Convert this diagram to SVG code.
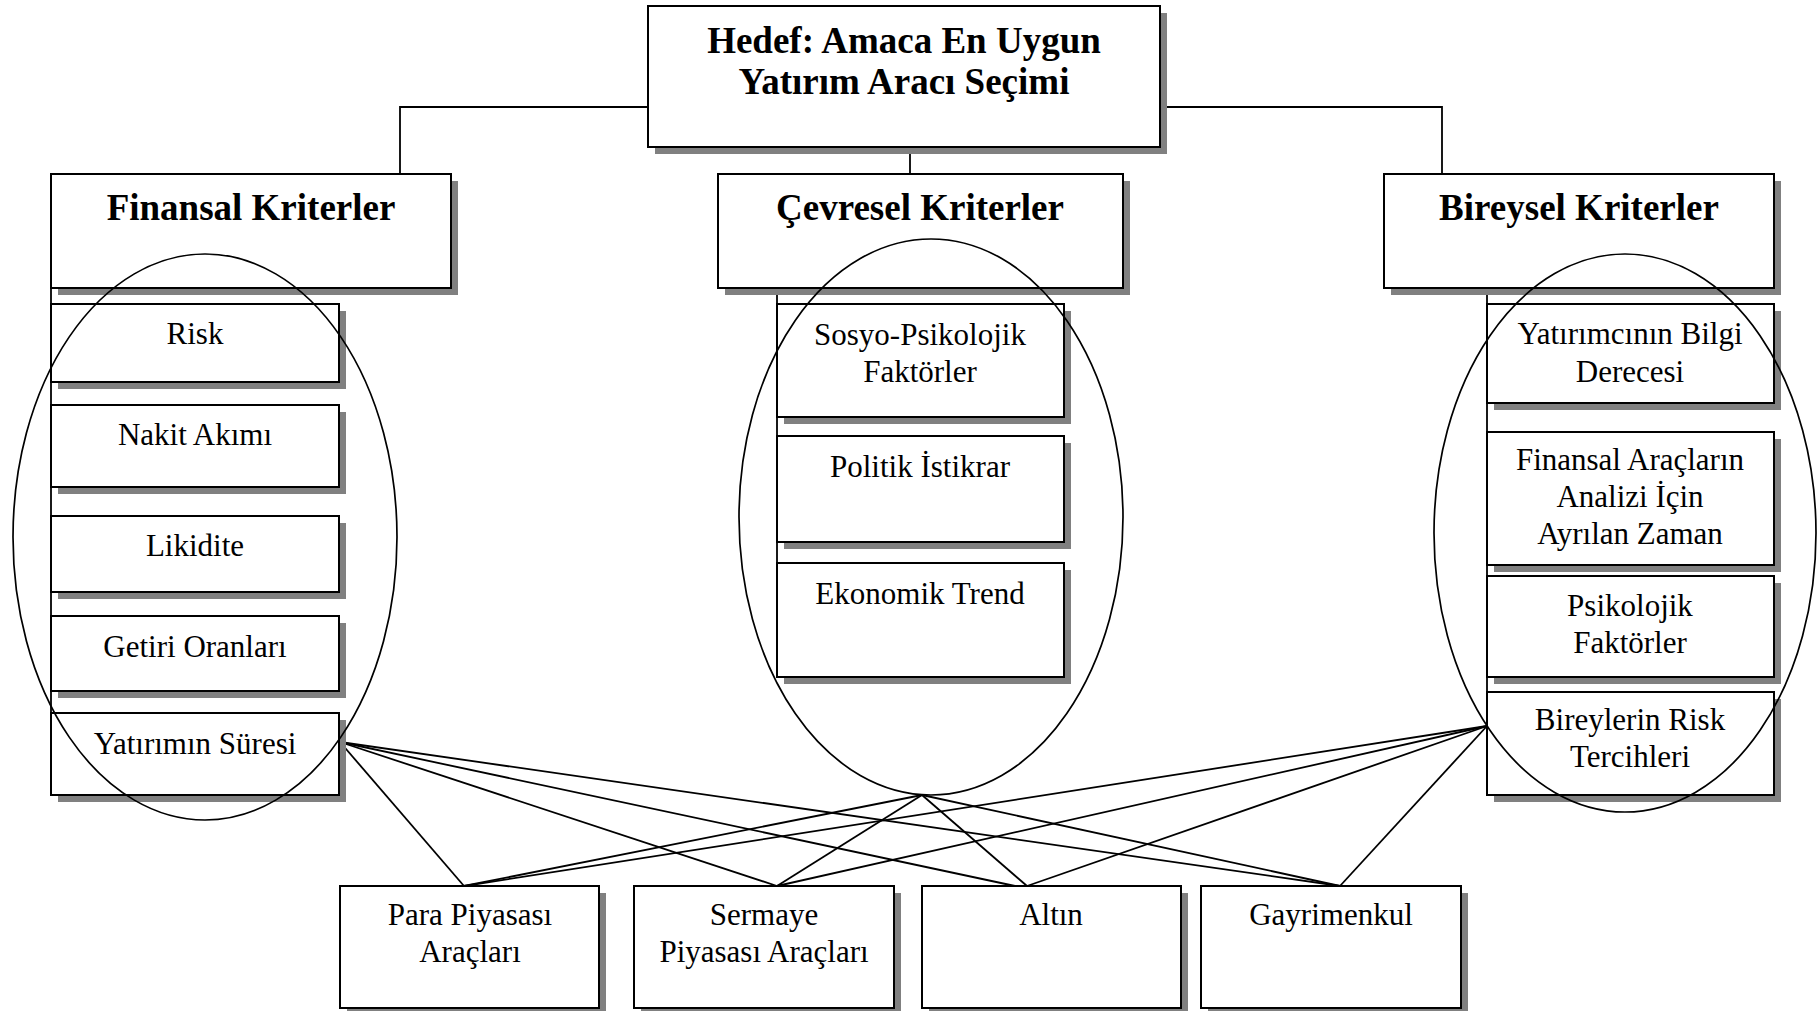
<svg xmlns="http://www.w3.org/2000/svg" width="1818" height="1011" viewBox="0 0 1818 1011">
<style>
.bg{fill:#ffffff}
.sh{fill:#808080}
.bx{fill:#ffffff;stroke:#000000;stroke-width:2}
.hd{font-family:"Liberation Serif","Times New Roman",serif;font-weight:bold;font-size:37px;fill:#000000;text-anchor:middle}
.tx{font-family:"Liberation Serif","Times New Roman",serif;font-size:31px;fill:#000000;text-anchor:middle}
.ln{fill:none;stroke:#000000;stroke-width:1.8}
.el{fill:none;stroke:#000000;stroke-width:1.7}
</style>
<rect class="bg" x="0" y="0" width="1818" height="1011"/>

<g id="connectors">
  <polyline class="ln" points="648,107 400,107 400,174"/>
  <polyline class="ln" points="1160,107 1442,107 1442,174"/>
  <line class="ln" x1="910" y1="147" x2="910" y2="174"/>
  <line class="ln" x1="51" y1="288" x2="51" y2="795"/>
  <line class="ln" x1="777" y1="288" x2="777" y2="677"/>
  <line class="ln" x1="1487" y1="288" x2="1487" y2="795"/>
  <line class="ln" x1="340" y1="742" x2="464" y2="886"/>
  <line class="ln" x1="340" y1="742" x2="777" y2="886"/>
  <line class="ln" x1="340" y1="742" x2="1015" y2="886"/>
  <line class="ln" x1="340" y1="742" x2="1340" y2="886"/>
  <line class="ln" x1="922" y1="795" x2="464" y2="886"/>
  <line class="ln" x1="922" y1="795" x2="777" y2="886"/>
  <line class="ln" x1="922" y1="795" x2="1027" y2="886"/>
  <line class="ln" x1="922" y1="795" x2="1340" y2="886"/>
  <line class="ln" x1="1487" y1="726" x2="464" y2="886"/>
  <line class="ln" x1="1487" y1="726" x2="777" y2="886"/>
  <line class="ln" x1="1487" y1="726" x2="1027" y2="886"/>
  <line class="ln" x1="1487" y1="726" x2="1340" y2="886"/>
</g>

<g id="goal">
  <rect class="sh" x="655" y="13" width="512" height="141"/>
  <rect class="bx" x="648" y="6" width="512" height="141"/>
  <text class="hd" x="904" y="53">Hedef: Amaca En Uygun</text>
  <text class="hd" x="904" y="94">Yatırım Aracı Seçimi</text>
</g>

<g id="finansal">
  <rect class="sh" x="58" y="181" width="400" height="114"/>
  <rect class="bx" x="51" y="174" width="400" height="114"/>
  <text class="hd" x="251" y="220">Finansal Kriterler</text>
</g>
<g id="cevresel">
  <rect class="sh" x="725" y="181" width="405" height="114"/>
  <rect class="bx" x="718" y="174" width="405" height="114"/>
  <text class="hd" x="920" y="220">Çevresel Kriterler</text>
</g>
<g id="bireysel">
  <rect class="sh" x="1391" y="181" width="390" height="114"/>
  <rect class="bx" x="1384" y="174" width="390" height="114"/>
  <text class="hd" x="1579" y="220">Bireysel Kriterler</text>
</g>

<g id="risk">
  <rect class="sh" x="58" y="311" width="288" height="78"/>
  <rect class="bx" x="51" y="304" width="288" height="78"/>
  <text class="tx" x="195" y="344">Risk</text>
</g>
<g id="nakit">
  <rect class="sh" x="58" y="412" width="288" height="82"/>
  <rect class="bx" x="51" y="405" width="288" height="82"/>
  <text class="tx" x="195" y="445">Nakit Akımı</text>
</g>
<g id="likidite">
  <rect class="sh" x="58" y="523" width="288" height="76"/>
  <rect class="bx" x="51" y="516" width="288" height="76"/>
  <text class="tx" x="195" y="556">Likidite</text>
</g>
<g id="getiri">
  <rect class="sh" x="58" y="623" width="288" height="75"/>
  <rect class="bx" x="51" y="616" width="288" height="75"/>
  <text class="tx" x="195" y="657">Getiri Oranları</text>
</g>
<g id="sure">
  <rect class="sh" x="58" y="720" width="288" height="82"/>
  <rect class="bx" x="51" y="713" width="288" height="82"/>
  <text class="tx" x="195" y="754">Yatırımın Süresi</text>
</g>

<g id="sosyo">
  <rect class="sh" x="784" y="311" width="287" height="113"/>
  <rect class="bx" x="777" y="304" width="287" height="113"/>
  <text class="tx" x="920" y="345">Sosyo-Psikolojik</text>
  <text class="tx" x="920" y="382">Faktörler</text>
</g>
<g id="politik">
  <rect class="sh" x="784" y="443" width="287" height="106"/>
  <rect class="bx" x="777" y="436" width="287" height="106"/>
  <text class="tx" x="920" y="477">Politik İstikrar</text>
</g>
<g id="ekonomik">
  <rect class="sh" x="784" y="570" width="287" height="114"/>
  <rect class="bx" x="777" y="563" width="287" height="114"/>
  <text class="tx" x="920" y="604">Ekonomik Trend</text>
</g>

<g id="bilgi">
  <rect class="sh" x="1494" y="311" width="287" height="99"/>
  <rect class="bx" x="1487" y="304" width="287" height="99"/>
  <text class="tx" x="1630" y="344">Yatırımcının Bilgi</text>
  <text class="tx" x="1630" y="382">Derecesi</text>
</g>
<g id="zaman">
  <rect class="sh" x="1494" y="439" width="287" height="133"/>
  <rect class="bx" x="1487" y="432" width="287" height="133"/>
  <text class="tx" x="1630" y="470">Finansal Araçların</text>
  <text class="tx" x="1630" y="507">Analizi İçin</text>
  <text class="tx" x="1630" y="544">Ayrılan Zaman</text>
</g>
<g id="psikolojik">
  <rect class="sh" x="1494" y="583" width="287" height="101"/>
  <rect class="bx" x="1487" y="576" width="287" height="101"/>
  <text class="tx" x="1630" y="616">Psikolojik</text>
  <text class="tx" x="1630" y="653">Faktörler</text>
</g>
<g id="tercih">
  <rect class="sh" x="1494" y="699" width="287" height="103"/>
  <rect class="bx" x="1487" y="692" width="287" height="103"/>
  <text class="tx" x="1630" y="730">Bireylerin Risk</text>
  <text class="tx" x="1630" y="767">Tercihleri</text>
</g>

<g id="para">
  <rect class="sh" x="347" y="893" width="259" height="122"/>
  <rect class="bx" x="340" y="886" width="259" height="122"/>
  <text class="tx" x="470" y="925">Para Piyasası</text>
  <text class="tx" x="470" y="962">Araçları</text>
</g>
<g id="sermaye">
  <rect class="sh" x="641" y="893" width="260" height="122"/>
  <rect class="bx" x="634" y="886" width="260" height="122"/>
  <text class="tx" x="764" y="925">Sermaye</text>
  <text class="tx" x="764" y="962">Piyasası Araçları</text>
</g>
<g id="altin">
  <rect class="sh" x="929" y="893" width="259" height="122"/>
  <rect class="bx" x="922" y="886" width="259" height="122"/>
  <text class="tx" x="1051" y="925">Altın</text>
</g>
<g id="gayrimenkul">
  <rect class="sh" x="1208" y="893" width="260" height="122"/>
  <rect class="bx" x="1201" y="886" width="260" height="122"/>
  <text class="tx" x="1331" y="925">Gayrimenkul</text>
</g>

<g id="groups">
  <ellipse class="el" cx="205" cy="537" rx="192" ry="283"/>
  <ellipse class="el" cx="931" cy="517" rx="192" ry="278"/>
  <ellipse class="el" cx="1625" cy="533" rx="191" ry="279"/>
</g>
</svg>
